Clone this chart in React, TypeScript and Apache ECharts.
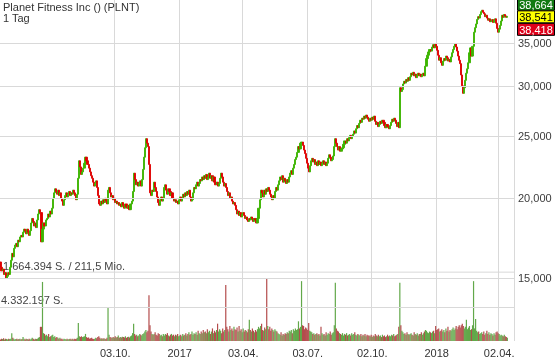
import React, { useEffect, useRef } from "react";
import * as echarts from "echarts";

// ---------- data ----------
const startDate = "2016-04-25";
const holidays = [
  "2016-05-30", "2016-07-04", "2016-09-05", "2016-11-24", "2016-12-26",
  "2017-01-02", "2017-01-16", "2017-02-20", "2017-04-14", "2017-05-29",
  "2017-07-04", "2017-09-04", "2017-11-23", "2017-12-25",
  "2018-01-01", "2018-01-15", "2018-02-19", "2018-03-30",
];
const padDays = 6;

const firstOpen = 15.9;
const closes = [
  15.6, 15.4, 15.5, 15.2, 15.3, 15.0, 15.1, 15.3, 15.2, 15.6,
  16.0, 16.4, 16.2, 16.7, 16.9, 17.0, 16.8, 17.2, 17.1, 17.4,
  17.5, 17.4, 17.7, 17.9, 17.8, 17.6, 17.9, 17.7, 17.5, 17.8,
  18.3, 18.6, 18.4, 18.1, 18.3, 18.0, 18.5, 18.9, 19.2, 19.0,
  17.1, 17.9, 18.3, 18.1, 18.5, 18.6, 18.9, 18.7, 19.1, 18.9,
  19.3, 20.0, 20.4, 20.7, 20.5, 20.3, 20.6, 20.2, 20.4, 20.0,
  19.8, 19.5, 19.9, 20.2, 20.4, 20.1, 20.3, 20.5, 20.2, 20.4,
  20.3, 20.6, 20.4, 20.2, 19.9, 20.3, 21.5, 22.9, 22.4, 21.8,
  22.0, 22.3, 22.7, 23.2, 22.9, 22.6, 22.3, 22.0, 21.7, 21.5,
  21.2, 20.9, 21.1, 21.3, 20.8, 20.2, 19.6, 19.5, 19.8, 19.6,
  19.9, 19.7, 20.0, 19.8, 19.6, 20.6, 20.8, 20.4, 20.1, 20.2,
  19.9, 20.0, 19.7, 19.8, 19.6, 19.7, 19.5, 19.6, 19.4, 19.7,
  19.5, 19.3, 19.6, 19.4, 19.3, 19.5, 19.2, 19.6, 19.8, 20.5,
  21.9, 21.4, 21.0, 21.2, 20.9, 21.1, 21.3, 20.9, 21.4, 22.2,
  23.2, 24.0, 24.8, 24.4, 24.1, 22.6, 20.4, 20.2, 20.6, 20.5,
  21.2, 20.8, 20.5, 20.1, 19.7, 19.5, 19.9, 20.1, 19.8, 20.0,
  20.8, 21.0, 20.6, 20.3, 20.7, 20.5, 20.2, 20.4, 20.0, 19.8,
  19.9, 19.7, 19.8, 19.6, 19.9, 20.1, 19.8, 20.0, 20.3, 20.1,
  20.4, 20.2, 20.5, 20.3, 20.6, 20.1, 19.8, 19.9, 20.4, 20.8,
  20.7, 21.0, 21.2, 20.9, 21.1, 21.4, 21.3, 21.6, 21.4, 21.7,
  21.5, 21.8, 21.4, 21.6, 21.9, 21.5, 21.7, 21.3, 21.6, 21.2,
  21.0, 21.2, 20.9, 21.1, 21.5, 21.9, 21.6, 21.2, 20.9, 21.1,
  20.8, 20.5, 20.2, 20.4, 20.0, 20.1, 19.8, 19.6, 19.7, 19.5,
  19.2, 18.9, 19.1, 18.8, 19.0, 18.7, 18.9, 19.0, 18.8, 18.6,
  18.7, 18.5, 18.4, 18.6, 18.5, 18.7, 18.6, 18.4, 18.6, 18.5,
  18.3, 18.6, 19.3, 19.9, 20.6, 20.4, 20.1, 20.6, 20.3, 20.7,
  20.5, 20.8, 20.6, 20.3, 20.1, 19.9, 20.2, 20.0, 20.5, 20.8,
  20.6, 21.0, 21.3, 21.6, 21.4, 21.7, 21.2, 21.5, 21.3, 21.1,
  21.4, 21.2, 21.6, 21.9, 22.1, 21.8, 22.3, 22.6, 23.0, 23.2,
  23.6, 24.1, 23.9, 24.4, 24.5, 24.2, 23.8, 23.5, 23.1, 22.7,
  22.3, 22.0, 22.5, 22.9, 23.1, 22.8, 23.0, 22.6, 22.8, 22.5,
  22.9, 22.6, 22.8, 22.5, 22.7, 22.9, 22.6, 22.8, 22.5, 22.7,
  23.1, 23.4, 23.2, 22.9, 23.0, 23.3, 24.1, 24.8, 24.4, 24.1,
  23.8, 24.1, 23.7, 23.9, 24.0, 24.3, 24.6, 24.4, 24.8, 24.6,
  24.9, 25.1, 24.8, 25.0, 25.2, 25.5, 25.3, 25.7, 26.0, 25.8,
  26.2, 26.5, 26.3, 26.7, 26.6, 26.9, 26.7, 27.0, 26.8, 26.6,
  26.4, 26.7, 26.5, 26.8, 26.6, 26.9, 26.4, 26.1, 26.3, 25.9,
  26.1, 26.4, 26.2, 26.5, 26.3, 26.0, 25.8, 26.1, 25.9, 25.7,
  26.0, 26.3, 26.6, 26.4, 26.7, 26.5, 26.2, 25.9, 26.3, 25.8,
  29.8, 29.4, 29.6, 30.2, 30.5, 30.3, 30.7, 30.5, 30.9, 30.6,
  31.0, 31.4, 31.2, 31.5, 31.1, 31.3, 30.9, 31.2, 31.4, 31.1,
  31.3, 31.0, 31.2, 31.4, 31.1, 32.2, 33.1, 33.5, 33.9, 34.2,
  34.0, 34.5, 34.8, 34.4, 34.9, 34.6, 34.1, 33.5, 32.9, 33.2,
  32.6, 32.3, 32.8, 33.1, 32.9, 33.4, 33.2, 32.8, 33.0, 32.7,
  33.3, 33.8, 34.2, 34.6, 34.9, 34.5, 34.0, 33.4, 32.9, 32.5,
  31.2, 30.0, 29.2, 29.8, 30.6, 31.4, 31.9, 32.6, 33.8, 34.4,
  33.4, 34.6, 36.4, 37.0, 37.5, 38.1, 38.5, 38.3, 38.8, 39.2,
  39.4, 39.1, 38.9, 38.5, 38.7, 38.3, 38.0, 38.2, 37.8, 37.9,
  38.1, 37.7, 38.0, 38.2, 37.6, 36.9, 36.4, 36.8, 37.3, 37.9,
  38.7, 38.4, 38.8, 38.6, 38.4, 38.541,
];

// volume in millions of shares
const volumes = [
  0.2, 0.3, 0.25, 0.35, 0.2, 0.3, 0.25, 0.2, 0.3, 0.25,
  0.3, 1.0, 0.4, 0.3, 0.2, 0.25, 0.3, 0.2, 0.25, 0.3,
  0.2, 0.25, 0.5, 0.3, 0.2, 0.3, 0.25, 0.2, 0.3, 0.2,
  0.3, 0.4, 0.3, 0.2, 0.3, 0.25, 0.3, 0.4, 0.5, 1.8,
  1.8, 7.5, 1.0, 0.9, 0.7, 0.8, 0.6, 0.9, 0.5, 0.6,
  0.7, 0.8, 0.5, 0.6, 0.4, 0.5, 0.4, 0.3, 0.4, 0.3,
  0.3, 0.2, 0.3, 0.25, 0.2, 0.3, 0.2, 0.25, 0.3, 0.2,
  0.3, 0.2, 0.3, 0.25, 0.3, 0.4, 2.3, 0.6, 0.5, 0.6,
  0.5, 0.55, 0.6, 0.9, 0.5, 0.4, 0.45, 0.3, 0.35, 0.4,
  0.3, 0.25, 0.3, 0.4, 0.35, 0.5, 0.6, 0.4, 0.3, 0.35,
  0.3, 0.35, 0.3, 0.25, 0.4, 4.33, 0.8, 0.5, 0.45, 0.4,
  0.5, 0.4, 0.6, 0.45, 0.5, 0.7, 0.4, 0.5, 0.45, 0.55,
  0.5, 0.45, 0.6, 0.4, 0.5, 0.55, 0.45, 0.6, 0.7, 1.0,
  2.2, 0.9, 0.7, 0.8, 0.6, 0.7, 0.9, 0.8, 0.7, 0.9,
  1.0, 1.2, 1.4, 1.1, 1.3, 5.8, 2.0, 1.2, 0.9, 0.8,
  0.9, 1.1, 0.8, 0.7, 1.0, 0.9, 0.7, 0.8, 0.6, 0.9,
  0.7, 0.9, 0.8, 1.0, 0.7, 0.6, 0.8, 0.9, 0.7, 0.8,
  0.6, 0.8, 0.7, 0.9, 0.6, 0.7, 0.8, 0.6, 0.9, 0.7,
  0.8, 1.0, 0.7, 0.9, 1.1, 0.8, 0.9, 1.2, 0.8, 1.0,
  0.9, 1.1, 0.8, 1.3, 1.0, 0.9, 1.2, 1.0, 1.4, 1.1,
  1.2, 1.0, 1.5, 1.1, 1.3, 0.9, 1.2, 1.6, 1.0, 1.3,
  1.1, 1.4, 2.2, 1.2, 1.5, 1.3, 1.0, 1.6, 1.2, 1.4,
  7.1, 1.8, 1.5, 1.2, 1.9, 1.4, 1.6, 1.3, 1.8, 1.5,
  1.4, 1.7, 1.2, 1.9, 1.3, 1.5, 1.1, 1.6, 1.2, 1.4,
  1.3, 1.1, 1.5, 2.7, 1.4, 1.2, 1.6, 1.3, 1.1, 1.4,
  1.2, 1.5, 1.8, 1.6, 1.9, 2.2, 1.4, 1.3, 1.7, 1.5,
  8.6, 1.9, 1.5, 1.8, 1.3, 1.6, 1.4, 1.2, 1.5, 1.3,
  1.2, 1.0, 0.9, 0.8, 1.1, 0.7, 0.9, 0.8, 1.0, 0.9,
  1.1, 1.0, 1.3, 1.2, 1.4, 1.0, 1.5, 1.3, 1.6, 1.4,
  1.5, 2.5, 1.6, 1.8, 7.6, 2.0, 1.9, 1.5, 1.7, 1.6,
  1.4, 2.3, 1.3, 1.2, 1.1, 0.9, 1.0, 0.8, 0.9, 1.0,
  0.8, 0.9, 0.7, 1.8, 1.0, 0.8, 0.9, 0.7, 1.1, 0.8,
  1.0, 0.9, 1.2, 0.8, 1.0, 1.1, 2.0, 7.4, 1.6, 1.3,
  1.2, 1.0, 0.9, 0.8, 1.0, 0.7, 0.9, 0.8, 1.0, 0.7,
  0.8, 0.9, 0.7, 1.0, 0.8, 0.9, 1.1, 0.8, 0.7, 0.9,
  0.8, 0.7, 0.9, 0.6, 0.8, 0.7, 0.9, 0.6, 0.8, 0.7,
  0.7, 0.6, 0.8, 0.5, 0.7, 0.6, 0.9, 0.7, 0.6, 0.8,
  0.6, 0.7, 0.5, 0.8, 0.6, 0.7, 0.5, 0.6, 0.8, 0.6,
  0.7, 0.6, 0.8, 0.7, 0.9, 0.6, 0.7, 0.8, 0.9, 1.8,
  7.4, 2.0, 1.3, 1.1, 0.9, 1.0, 0.8, 1.1, 0.9, 0.8,
  0.9, 1.0, 0.8, 0.7, 1.1, 0.9, 0.8, 1.0, 0.7, 0.9,
  0.9, 1.1, 0.8, 1.0, 1.2, 1.4, 1.3, 1.1, 1.0, 1.2,
  1.1, 1.0, 1.2, 1.3, 1.0, 1.9, 1.4, 1.5, 1.6, 1.2,
  1.3, 1.5, 1.2, 1.4, 1.1, 1.6, 1.3, 1.8, 1.2, 1.4,
  1.3, 1.5, 1.7, 1.4, 1.6, 1.9, 1.5, 1.8, 2.0, 1.7,
  2.0, 2.2, 1.9, 1.6, 1.8, 2.7, 1.5, 1.7, 1.9, 1.4,
  1.5, 2.0, 7.6, 1.6, 2.8, 1.3, 1.1, 1.2, 0.9, 1.0,
  1.1, 0.9, 1.2, 0.8, 1.0, 1.3, 0.9, 1.1, 0.8, 1.0,
  0.9, 0.7, 1.0, 0.8, 1.1, 1.2, 1.0, 0.9, 0.7, 0.8,
  0.7, 0.6, 0.8, 0.6, 0.5, 0.4,
];

const priceTicks = [15, 20, 25, 30, 35];
const priceAxisMin = 14.9;
const priceAxisMax = 40.88;
const volumeMax = 8.0;
const volumeLine = 4.332197;
const volumeLineLabel = "4.332.197 S.";
const lastVolumeLabel = "1.664.394 S. / 211,5 Mio.";
const tickDates = ["2016-10-03", "2017-01-03", "2017-04-03", "2017-07-03", "2017-10-02", "2018-01-02", "2018-04-02"];
const tickLabels = ["03.10.", "2017", "03.04.", "03.07.", "02.10.", "2018", "02.04."];
const quoteValues = ["38,664", "38,541", "38,418"];
const titleText = "Planet Fitness Inc () (PLNT)";
const subtitleText = "1 Tag";

// ---------- styling ----------
const FONT = 'Arial, "Liberation Sans", sans-serif';
const UP = "#3cb400";
const DOWN = "#e00000";
const VOL_UP = "#62a84a";
const VOL_DOWN = "#b44c4c";
const GRID = "#d9d9d9";
const TEXT = "#333333";

function tradingDays(start: string, count: number): string[] {
  const out: string[] = [];
  const d = new Date(start + "T00:00:00Z");
  while (out.length < count) {
    const wd = d.getUTCDay();
    const s = d.toISOString().slice(0, 10);
    if (wd !== 0 && wd !== 6 && !holidays.includes(s)) out.push(s);
    d.setUTCDate(d.getUTCDate() + 1);
  }
  return out;
}

const fmtPrice = (v: number) => v.toFixed(3).replace(".", ",");

export default function App() {
  const ref = useRef<HTMLDivElement>(null);

  useEffect(() => {
    if (!ref.current) return;
    const chart = echarts.init(ref.current, null, { renderer: "svg" });

    const dates = tradingDays(startDate, closes.length + padDays);
    const opens = closes.map((c, i) => (i === 0 ? firstOpen : closes[i - 1]));
    const candles = closes.map((c, i) => {
      const o = opens[i];
      return [Math.log(o), Math.log(c), Math.log(Math.min(o, c)), Math.log(Math.max(o, c))];
    });
    const volData = volumes.map((v, i) => ({
      value: v,
      itemStyle: { color: closes[i] >= opens[i] ? VOL_UP : VOL_DOWN },
    }));
    const isTick = (_i: number, val: string) => tickDates.includes(val);
    const labelOf = (val: string) => {
      const k = tickDates.indexOf(val);
      return k >= 0 ? tickLabels[k] : "";
    };

    const gridW = 514;
    chart.setOption({
      animation: false,
      grid: [
        { left: 0, top: 0, width: gridW, height: 280 },
        { left: 0, top: 278, width: gridW, height: 63 },
      ],
      xAxis: [
        {
          type: "category", gridIndex: 0, data: dates, boundaryGap: true,
          axisLine: { show: false }, axisTick: { show: false }, axisLabel: { show: false },
          splitLine: { show: true, interval: isTick, lineStyle: { color: GRID, width: 1 } },
        },
        {
          type: "category", gridIndex: 1, data: dates, boundaryGap: true,
          axisLine: { show: false }, axisTick: { show: false },
          axisLabel: {
            show: true, interval: isTick, formatter: labelOf, margin: 6,
            fontSize: 11, fontFamily: FONT, color: TEXT,
          },
          splitLine: { show: true, interval: isTick, lineStyle: { color: GRID, width: 1 } },
        },
      ],
      yAxis: [
        {
          type: "value", gridIndex: 0, min: Math.log(priceAxisMin), max: Math.log(priceAxisMax),
          axisLine: { show: false }, axisTick: { show: false }, axisLabel: { show: false },
          splitLine: { show: false },
        },
        {
          type: "value", gridIndex: 1, min: 0, max: volumeMax,
          axisLine: { show: false }, axisTick: { show: false }, axisLabel: { show: false },
          splitLine: { show: false },
        },
      ],
      series: [
        {
          type: "candlestick", xAxisIndex: 0, yAxisIndex: 0, data: candles,
          barWidth: 1.6,
          itemStyle: { color: UP, color0: DOWN, borderColor: UP, borderColor0: DOWN, borderWidth: 0.9 },
          markLine: {
            silent: true, symbol: ["none", "none"], animation: false, precision: 10,
            lineStyle: { color: GRID, type: "solid", width: 1 },
            label: {
              show: true, position: "end", distance: 4,
              formatter: (p: any) => p.name,
              fontSize: 11, fontFamily: FONT, color: "#3c3c3c",
            },
            data: priceTicks.map((v) => ({ yAxis: Math.log(v), name: fmtPrice(v) })),
          },
          z: 3,
        },
        {
          type: "bar", xAxisIndex: 1, yAxisIndex: 1, data: volData, barWidth: 1.2,
          markLine: {
            silent: true, symbol: ["none", "none"], animation: false,
            lineStyle: { color: GRID, type: "solid", width: 1 },
            label: { show: false },
            data: [{ yAxis: volumeLine }],
          },
        },
      ],
    });

    const yLast = chart.convertToPixel({ yAxisIndex: 0 }, Math.log(closes[closes.length - 1])) as number;
    const yVol = chart.convertToPixel({ yAxisIndex: 1 }, volumeLine) as number;
    const yBase = chart.convertToPixel({ yAxisIndex: 0 }, Math.log(priceTicks[0])) as number;

    const boxFills = ["#127a12", "#ffff00", "#e0001a"];
    const boxText = ["#ffffff", "#000000", "#ffffff"];
    const boxTop = yLast - 5.5;
    const boxes: any[] = [];
    quoteValues.forEach((t, k) => {
      const top = boxTop + (k - 1) * 12.5;
      boxes.push({
        type: "rect", z: 100,
        shape: { x: 517.5, y: top, width: 37, height: 12 },
        style: { fill: boxFills[k], stroke: "#000", lineWidth: 1 },
      });
      boxes.push({
        type: "text", z: 101, x: 536, y: top + 6.5,
        style: {
          text: t, fill: boxText[k], fontSize: 11, fontFamily: FONT,
          align: "center", verticalAlign: "middle", textAlign: "center", textVerticalAlign: "middle",
        },
      });
    });

    chart.setOption({
      graphic: [
        {
          type: "line", z: 0,
          shape: { x1: 0, y1: yBase - 6, x2: gridW, y2: yBase - 6 },
          style: { stroke: GRID, lineWidth: 1 },
        },
        {
          type: "text", z: 0, x: 3, y: 1,
          style: { text: titleText, fill: TEXT, fontSize: 11, fontFamily: FONT, align: "left", verticalAlign: "top", textAlign: "left", textVerticalAlign: "top" },
        },
        {
          type: "text", z: 0, x: 3, y: 12,
          style: { text: subtitleText, fill: TEXT, fontSize: 11, fontFamily: FONT, align: "left", verticalAlign: "top", textAlign: "left", textVerticalAlign: "top" },
        },
        {
          type: "text", z: 0, x: 3, y: yBase - 7,
          style: { text: lastVolumeLabel, fill: "#444", fontSize: 11, fontFamily: FONT, align: "left", verticalAlign: "bottom", textAlign: "left", textVerticalAlign: "bottom" },
        },
        {
          type: "text", z: 0, x: 1, y: yVol - 1,
          style: { text: volumeLineLabel, fill: "#444", fontSize: 11, fontFamily: FONT, align: "left", verticalAlign: "bottom", textAlign: "left", textVerticalAlign: "bottom" },
        },
        ...boxes,
      ],
    });

    return () => chart.dispose();
  }, []);

  return <div ref={ref} style={{ position: "fixed", left: 0, top: 0, width: 560, height: 361 }} />;
}
